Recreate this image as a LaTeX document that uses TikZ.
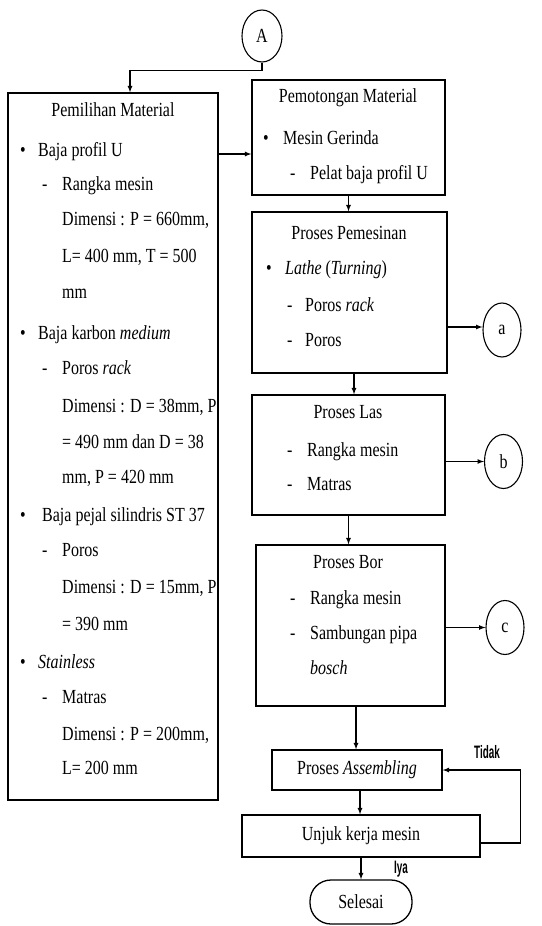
\documentclass[tikz,border=0pt]{standalone}
\usepackage{fontspec}
\setmainfont{Liberation Serif}[FakeStretch=0.8]
\newfontfamily\tagfont{Liberation Sans}[FakeStretch=0.55]
\usetikzlibrary{shapes.geometric}
\begin{document}
\begin{tikzpicture}[
		x=1pt, y=-1pt,
		every node/.style={
				font=\fontsize{20}{24}\selectfont,
			},
		kotak/.style={draw, line width=1.3pt, inner sep=0pt},
		bulat/.style={draw, ellipse, line width=1.1pt, inner sep=0pt, minimum width=38pt, minimum height=54pt},
		txt/.style={anchor=base west, inner sep=0pt, yshift=-6pt},
		tag/.style={inner sep=0pt, font=\tagfont\bfseries\fontsize{18}{20}\selectfont},
		panah/.style={-latex, line width=1.2pt},]
	\useasboundingbox (0,0) rectangle (541,926);
	\node[bulat, minimum width=40pt, minimum height=52pt] (A) at (262,36) {A};
	\node[kotak, minimum width=210pt, minimum height=707pt] (pilih) at (113,446.5) {};
	\node[kotak, minimum width=193pt, minimum height=115pt] (potong) at (348.5,137.5) {};
	\node[kotak, minimum width=195pt, minimum height=161pt] (mesin) at (349.5,292.5) {};
	\node[kotak, minimum width=193pt, minimum height=120pt] (las) at (348.5,455) {};
	\node[kotak, minimum width=189pt, minimum height=161pt] (bor) at (350.5,625.5) {};
	\node[kotak, minimum width=170pt, minimum height=40pt] (rakit) at (357,770) {Proses \textit{Assembling}};
	\node[kotak, minimum width=238pt, minimum height=42pt] (unjuk) at (361,836) {Unjuk kerja mesin};
	\node[kotak, rounded corners=21pt, minimum width=102pt, minimum height=44pt] (selesai) at (361,902) {Selesai};
	\node[bulat] (ca) at (502,330) {a};
	\node[bulat] (cb) at (503.5,461.5) {b};
	\node[bulat] (cc) at (505,627.5) {c};
	\node[inner sep=0pt] (jpilih) at (113,110) {Pemilihan Material};
	\node[inner sep=0pt] (jpotong) at (348,98) {Pemotongan Material};
	\node[inner sep=0pt] (jmesin) at (349,233) {Proses Pemesinan};
	\node[inner sep=0pt] (jlas) at (348,412) {Proses Las};
	\node[inner sep=0pt] (jbor) at (348,562) {Proses Bor};
	\foreach \x/\y/\t [count=\i] in {
			20/150/\textbullet, 38/150/Baja profil U,
			42/184/-, 62/184/Rangka mesin,
			62/219/{Dimensi : P = 660mm,},
			62/256/{L= 400 mm, T = 500},
			62/292/mm,
			20/333/\textbullet, 38/333/Baja karbon \textit{medium},
			42/368/-, 62/368/Poros \textit{rack},
			62/406/{Dimensi : D = 38mm, P},
			62/442/= 490 mm dan D = 38,
			62/477/{mm, P = 420 mm},
			20/515/\textbullet, 42/515/Baja pejal silindris ST 37,
			42/550/-, 62/550/Poros,
			62/587/{Dimensi : D = 15mm, P},
			62/624/= 390 mm,
			20/662/\textbullet, 38/662/\textit{Stainless},
			42/697/-, 62/697/Matras,
			62/734/{Dimensi : P = 200mm,},
			62/768/L= 200 mm} {
			\node[txt] (kiri\i) at (\x,\y) {\t};
		}
	\foreach \x/\y/\t [count=\i] in {
			263/138/\textbullet, 283/138/Mesin Gerinda,
			290/173/-, 310/173/Pelat baja profil U,
			266/268/\textbullet, 285/268/\textit{Lathe} (\textit{Turning}),
			287/305/-, 305/305/Poros \textit{rack},
			287/340/-, 305/340/Poros,
			287/450/-, 307/450/Rangka mesin,
			287/484/-, 307/484/Matras,
			290/598/-, 310/598/Rangka mesin,
			290/633/-, 310/633/Sambungan pipa,
			310/668/\textit{bosch}} {
			\node[txt] (kanan\i) at (\x,\y) {\t};
		}
	\node[tag] (tidak) at (487,752) {Tidak};
	\node[tag] (iya) at (401,869) {Iya};
	\draw[panah] (A.south) -- ++(0,8) -| ([xshift=17pt]pilih.north);
	\draw[panah] (pilih.east |- 0,154) -- (potong.west |- 0,154);
	\draw[panah] (potong.south) -- (potong.south |- mesin.north);
	\draw[panah] (mesin.east |- 0,327) -- (ca.west |- 0,327);
	\draw[panah] ([xshift=4.5pt]mesin.south) -- ([xshift=4.5pt]mesin.south |- las.north);
	\draw[panah] (las.east |- cb.west) -- (cb.west);
	\draw[panah] (las.south) -- (las.south |- bor.north);
	\draw[panah] (bor.east |- cc.west) -- (cc.west);
	\draw[panah] ([xshift=5.5pt]bor.south) -- ([xshift=5.5pt]bor.south |- rakit.north);
	\draw[panah] ([xshift=3pt]rakit.south) -- ([xshift=3pt]rakit.south |- unjuk.north);
	\draw[panah] ([yshift=-7pt]unjuk.east) -- ++(40,0) |- (rakit.east);
	\draw[panah] (unjuk.south) -- (selesai.north);
\end{tikzpicture}
\end{document}
